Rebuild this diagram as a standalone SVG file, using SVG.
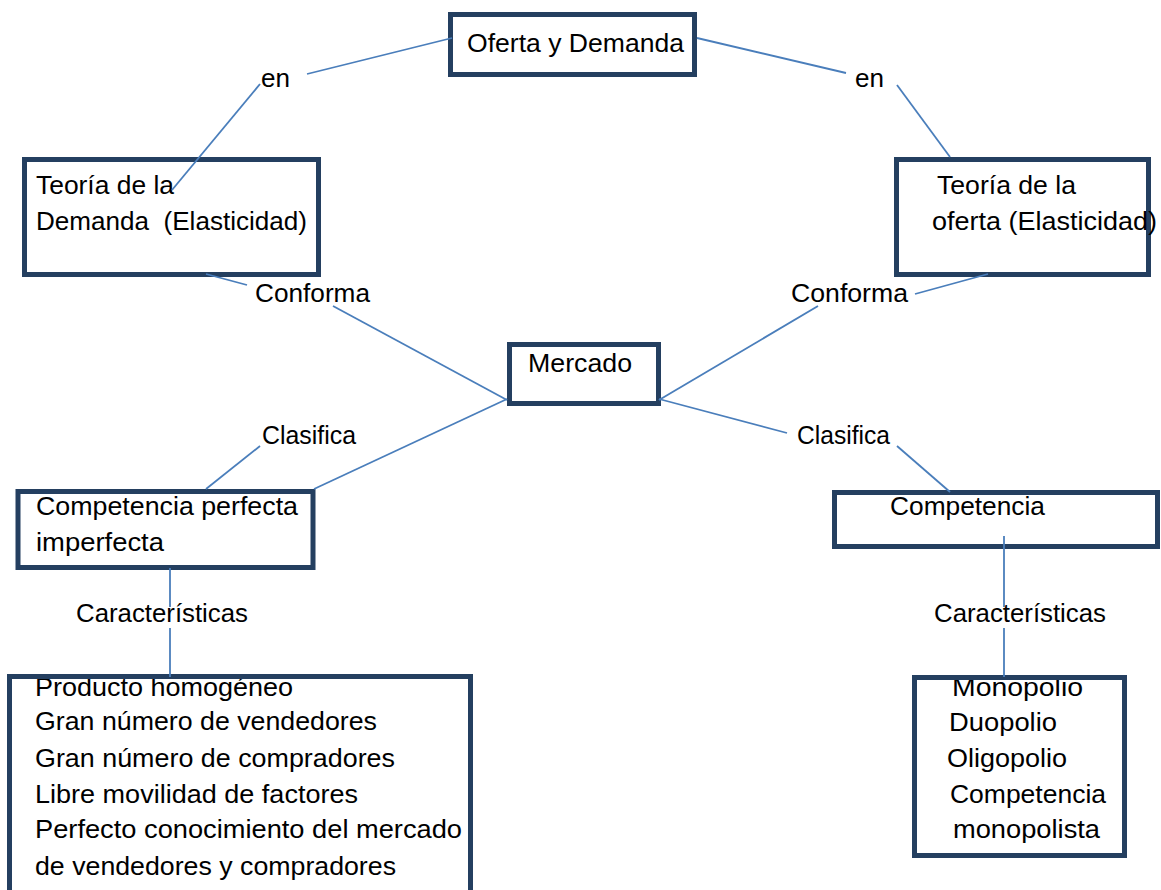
<svg xmlns="http://www.w3.org/2000/svg" width="1161" height="890" viewBox="0 0 1161 890">
<style>
.box{fill:#ffffff;stroke:#243F60;stroke-width:5}
.t{font-family:"Liberation Sans",Arial,sans-serif;font-size:26px;fill:#000000}
.c{stroke:#4A7EBB;stroke-width:1.8;fill:none}
</style>
<rect x="0" y="0" width="1161" height="890" fill="#ffffff"/>
<g id="node-oferta-demanda">
<rect class="box" x="450.5" y="14.5" width="244" height="60"/>
<text class="t" x="467" y="52" textLength="217" lengthAdjust="spacingAndGlyphs">Oferta y Demanda</text>
</g>
<g id="node-teoria-demanda">
<rect class="box" x="24.5" y="159.5" width="294" height="115"/>
<text class="t" x="36" y="194" textLength="138" lengthAdjust="spacingAndGlyphs">Teoría de la</text>
<text class="t" x="36" y="230" textLength="271" lengthAdjust="spacingAndGlyphs" xml:space="preserve">Demanda  (Elasticidad)</text>
</g>
<g id="node-teoria-oferta">
<rect class="box" x="896.5" y="159.5" width="252" height="115"/>
<text class="t" x="937" y="194" textLength="139" lengthAdjust="spacingAndGlyphs">Teoría de la</text>
<text class="t" x="932" y="230" textLength="225" lengthAdjust="spacingAndGlyphs">oferta (Elasticidad)</text>
</g>
<g id="node-mercado">
<rect class="box" x="509.5" y="344.5" width="149" height="59"/>
<text class="t" x="528" y="372" textLength="104" lengthAdjust="spacingAndGlyphs">Mercado</text>
</g>
<g id="node-competencia-perfecta">
<rect class="box" x="18" y="491.5" width="295" height="76"/>
<text class="t" x="36" y="515" textLength="262" lengthAdjust="spacingAndGlyphs">Competencia perfecta</text>
<text class="t" x="36" y="551" textLength="128" lengthAdjust="spacingAndGlyphs">imperfecta</text>
</g>
<g id="node-competencia">
<rect class="box" x="834.5" y="492.5" width="323" height="54"/>
<text class="t" x="890" y="515" textLength="155" lengthAdjust="spacingAndGlyphs">Competencia</text>
</g>
<g id="node-caracteristicas-perfecta">
<text class="t" x="35" y="696" textLength="258" lengthAdjust="spacingAndGlyphs">Producto homogéneo</text>
<text class="t" x="35" y="730" textLength="342" lengthAdjust="spacingAndGlyphs">Gran número de vendedores</text>
<text class="t" x="35" y="767" textLength="360" lengthAdjust="spacingAndGlyphs">Gran número de compradores</text>
<text class="t" x="35" y="803" textLength="323" lengthAdjust="spacingAndGlyphs">Libre movilidad de factores</text>
<text class="t" x="35" y="838" textLength="427" lengthAdjust="spacingAndGlyphs">Perfecto conocimiento del mercado</text>
<text class="t" x="35" y="875" textLength="361" lengthAdjust="spacingAndGlyphs">de vendedores y compradores</text>
<rect class="box" x="9.5" y="676.5" width="461" height="240" style="fill:none"/>
</g>
<g id="node-tipos-competencia">
<text class="t" x="952" y="696" textLength="131" lengthAdjust="spacingAndGlyphs">Monopolio</text>
<text class="t" x="949" y="731" textLength="108" lengthAdjust="spacingAndGlyphs">Duopolio</text>
<text class="t" x="947" y="767" textLength="120" lengthAdjust="spacingAndGlyphs">Oligopolio</text>
<text class="t" x="950" y="803" textLength="156" lengthAdjust="spacingAndGlyphs">Competencia</text>
<text class="t" x="953" y="838" textLength="147" lengthAdjust="spacingAndGlyphs">monopolista</text>
<rect class="box" x="914.5" y="677.5" width="210" height="178" style="fill:none"/>
</g>
<g id="connectors">
<line class="c" x1="452" y1="38" x2="307" y2="74"/>
<line class="c" x1="260" y1="84" x2="172" y2="190"/>
<line class="c" x1="697" y1="38" x2="846" y2="73"/>
<line class="c" x1="897" y1="85" x2="950" y2="157"/>
<line class="c" x1="206" y1="274" x2="247" y2="285"/>
<line class="c" x1="333" y1="306" x2="507" y2="400"/>
<line class="c" x1="988" y1="274" x2="915" y2="294"/>
<line class="c" x1="818" y1="306" x2="659" y2="400"/>
<line class="c" x1="507" y1="399" x2="314" y2="489"/>
<line class="c" x1="260" y1="446" x2="206" y2="489"/>
<line class="c" x1="659" y1="399" x2="787" y2="433"/>
<line class="c" x1="897" y1="446" x2="950" y2="492"/>
<line class="c" x1="170" y1="568" x2="170" y2="607"/>
<line class="c" x1="170" y1="628" x2="170" y2="677"/>
<line class="c" x1="1004" y1="536" x2="1004" y2="607"/>
<line class="c" x1="1004" y1="628" x2="1004" y2="677"/>
</g>
<g id="labels">
<text class="t" x="261" y="87" textLength="29" lengthAdjust="spacingAndGlyphs">en</text>
<text class="t" x="855" y="87" textLength="29" lengthAdjust="spacingAndGlyphs">en</text>
<text class="t" x="255" y="302" textLength="115" lengthAdjust="spacingAndGlyphs">Conforma</text>
<text class="t" x="791" y="302" textLength="117" lengthAdjust="spacingAndGlyphs">Conforma</text>
<text class="t" x="262" y="444" textLength="94" lengthAdjust="spacingAndGlyphs">Clasifica</text>
<text class="t" x="797" y="444" textLength="93" lengthAdjust="spacingAndGlyphs">Clasifica</text>
<text class="t" x="76" y="622" textLength="172" lengthAdjust="spacingAndGlyphs">Características</text>
<text class="t" x="934" y="622" textLength="172" lengthAdjust="spacingAndGlyphs">Características</text>
</g>
</svg>
